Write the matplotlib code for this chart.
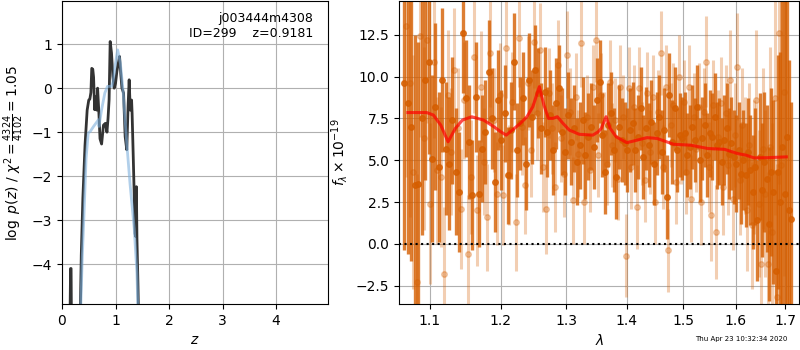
"""
redshift fit summary: log p(z) on the left, G141 spectrum + best-fit model on the right
"""
import numpy as np
import matplotlib
matplotlib.use('Agg')
import matplotlib.pyplot as plt

# ---------------- p(z) panel ----------------
z_pz = [0.140, 0.150, 0.160, 0.170, 0.180, 0.190, 0.330, 0.360, 0.390, 0.410, 0.430, 0.450,
        0.470, 0.500, 0.520, 0.540, 0.556, 0.575, 0.590, 0.610, 0.630, 0.650, 0.665, 0.690,
        0.710, 0.740, 0.775, 0.810, 0.840, 0.860, 0.880, 0.900, 0.925, 0.950, 0.975, 1.000,
        1.025, 1.050, 1.075, 1.100, 1.120, 1.150, 1.180, 1.210, 1.235, 1.255, 1.275, 1.300,
        1.310, 1.330, 1.350, 1.365, 1.375, 1.390, 1.400, 1.420, 1.450]
logpz = [-6.0, -5.2, -4.1, -4.1, -6.0, -6.5, -6.0, -3.8, -2.5, -1.9, -1.3, -0.9,
         -0.5, -0.27, -0.25, -0.1, 0.45, 0.43, 0.25, -0.49, -0.2, -0.5, 0.0, -0.58,
         -1.15, -1.27, -0.84, -0.8, -1.0, -0.69, -0.26, 1.06, 0.8, 0.27, 0.0, 0.11,
         0.38, 0.55, 0.72, 0.3, 0.0, -0.11, -1.1, -1.4, -0.4, 0.19, -0.5, -0.27,
         -0.58, -1.5, -2.46, -3.3, -3.37, -2.24, -3.4, -4.5, -6.5]

z_prior = [0.330, 0.350, 0.380, 0.410, 0.450, 0.490, 0.530, 0.590, 0.680, 0.690, 0.740,
           0.800, 0.850, 0.930, 0.960, 0.990, 1.040, 1.090, 1.140, 1.210, 1.270, 1.350,
           1.400, 1.440]
log_prior = [-6.5, -5.0, -3.8, -2.9, -1.6, -1.02, -0.98, -0.87, -0.72, -0.87, -0.49,
             -0.11, 0.04, 0.04, 0.19, 0.49, 0.87, 0.57, -0.04, -1.25, -2.16, -3.2,
             -4.2, -6.0]

root_name = 'j003444m4308'
obj_id = 299
z_best = 0.9181
chi2_num, chi2_den = 4324, 4102

# ---------------- spectrum panel ----------------
# pixel grids of the two G141 beams (~46 A / pixel)
wave_a = np.round(1.066 + 0.00465 * np.arange(140), 4)
wave_b = np.round(1.0685 + 0.00465 * np.arange(136), 4)

flux_a = [9.6, 8.4, 7.0, 3.5, 3.6, 7.5, 9.8, 10.9, 5.1, 8.2,
          4.6, 9.8, 5.7, 4.8, 7.4, 4.3, 3.1, 12.6, 8.7, 6.1,
          2.9, 8.8, 3.0, 5.7, 6.7, 10.3, 7.5, 3.7, 8.6, 6.2,
          7.8, 4.1, 6.8, 10.9, 5.6, 7.2, 8.7, 4.8, 9.8, 7.6,
          10.4, 9.0, 6.9, 9.1, 6.7, 7.7, 5.6, 8.4, 9.3, 6.7,
          5.5, 7.7, 6.1, 6.9, 4.9, 5.9, 7.4, 5.3, 6.4, 7.0,
          5.8, 8.6, 9.7, 6.5, 4.3, 7.1, 7.8, 5.6, 4.0, 7.0,
          6.2, 6.0, 5.6, 6.8, 7.2, 5.6, 6.4, 8.1, 5.2, 6.9,
          5.9, 7.3, 4.8, 6.6, 7.6, 5.5, 6.8, 2.8, 8.9, 6.1,
          8.1, 5.6, 6.5, 6.3, 6.6, 5.3, 5.8, 7.0, 6.2, 8.2,
          5.0, 6.3, 7.1, 5.3, 6.6, 6.4, 7.6, 5.9, 6.1, 4.9,
          6.2, 6.9, 5.4, 6.0, 5.2, 4.8, 5.6, 4.2, 5.0, 4.1,
          5.5, 4.4, 3.1, 4.6, 1.4, 5.2, 3.2, 4.9, 3.9, 1.2,
          4.3, 3.1, -1.6, 4.3, 2.5, 5.8, 3.0, 6.4, 2.0, 1.5]
err_a = [10.0, 9.0, 8.0, 9.0, 8.5, 7.0, 6.0, 5.5, 5.0, 5.0,
         4.5, 4.3, 4.0, 4.0, 3.8, 3.8, 3.6, 3.6, 3.5, 3.4,
         3.3, 3.3, 3.2, 3.2, 3.1, 3.1, 3.0, 3.0, 3.0, 3.0,
         2.9, 2.9, 2.9, 2.9, 2.8, 2.8, 2.8, 2.8, 2.8, 2.8,
         2.7, 2.7, 2.7, 2.7, 2.7, 2.7, 2.7, 2.7, 2.6, 2.6,
         2.6, 2.6, 2.6, 2.6, 2.6, 2.6, 2.6, 2.6, 2.6, 2.6,
         2.5, 2.5, 2.5, 2.5, 2.5, 2.5, 2.5, 2.5, 2.5, 2.5,
         2.5, 2.5, 2.5, 2.5, 2.5, 2.5, 2.5, 2.5, 2.5, 2.5,
         2.5, 2.5, 2.5, 2.5, 2.5, 2.5, 2.5, 2.5, 2.5, 2.5,
         2.5, 2.5, 2.5, 2.5, 2.5, 2.5, 2.5, 2.5, 2.5, 2.5,
         2.5, 2.5, 2.5, 2.5, 2.6, 2.6, 2.6, 2.6, 2.6, 2.6,
         2.7, 2.7, 2.7, 2.8, 2.8, 2.9, 2.9, 3.0, 3.0, 3.1,
         3.2, 3.3, 3.4, 3.5, 3.6, 3.8, 4.0, 4.2, 4.4, 4.6,
         5.0, 5.5, 6.0, 7.0, 9.0, 12.0, 12.0, 10.0, 9.0, 7.0]

flux_b = [13.0, 9.6, 4.3, -2.3, 12.4, 6.3, 12.2, 2.4, 10.9, 4.4,
          4.0, -1.8, 8.9, 5.5, 10.4, 6.9, 2.1, 8.6, -0.6, 4.0,
          11.2, 2.0, 9.4, 4.9, 1.6, 11.4, 7.4, 3.0, 8.9, 2.9,
          11.7, 4.1, 8.5, 1.3, 12.3, 7.0, 3.5, 9.6, 5.6, 12.1,
          7.8, 11.6, 4.6, 2.1, 9.0, 6.9, 3.4, 10.7, 6.3, 4.2,
          11.3, 7.9, 2.6, 8.8, 5.4, 12.0, 2.5, 7.6, 4.4, 9.4,
          12.2, 5.3, 8.9, 6.6, 4.8, 9.7, 5.9, 7.4, 3.9, 9.4,
          7.6, -0.7, 9.3, 4.6, 8.2, 2.2, 9.3, 6.0, 3.8, 9.0,
          5.5, 8.8, 2.5, 7.9, 11.4, 4.6, 9.4, -0.4, 7.1, 8.3,
          3.7, 10.0, 6.1, 8.5, 4.3, 9.4, 2.7, 7.6, 5.7, 8.2,
          2.5, 7.9, 10.9, 4.6, 1.7, 8.3, 0.7, 6.4, 8.4, 3.4,
          7.8, 4.7, 9.8, 2.7, 6.5, 10.6, 3.8, 7.1, 5.3, 2.0,
          5.9, 1.1, 4.6, 8.6, 2.4, -1.2, 5.7, 3.0, -1.2, 5.8,
          0.7, 8.7, -3.2, 12.6, 4.7, 9.1]
err_b = [9.0, 8.0, 7.0, 6.5, 6.0, 5.5, 5.0, 4.8, 4.6, 4.4,
         4.2, 4.0, 3.9, 3.8, 3.7, 3.6, 3.6, 3.5, 3.5, 3.4,
         3.4, 3.3, 3.3, 3.2, 3.2, 3.2, 3.1, 3.1, 3.1, 3.0,
         3.0, 3.0, 3.0, 2.9, 2.9, 2.9, 2.9, 2.8, 2.8, 2.8,
         2.8, 2.8, 2.7, 2.7, 2.7, 2.7, 2.7, 2.7, 2.6, 2.6,
         2.6, 2.6, 2.6, 2.6, 2.6, 2.6, 2.5, 2.5, 2.5, 2.5,
         2.5, 2.5, 2.5, 2.5, 2.5, 2.5, 2.5, 2.5, 2.5, 2.5,
         2.5, 2.5, 2.5, 2.5, 2.5, 2.5, 2.5, 2.5, 2.5, 2.5,
         2.5, 2.5, 2.5, 2.5, 2.5, 2.5, 2.5, 2.5, 2.5, 2.5,
         2.5, 2.5, 2.5, 2.5, 2.5, 2.5, 2.6, 2.6, 2.6, 2.6,
         2.6, 2.6, 2.7, 2.7, 2.7, 2.7, 2.8, 2.8, 2.8, 2.9,
         2.9, 3.0, 3.0, 3.1, 3.1, 3.2, 3.3, 3.4, 3.5, 3.6,
         3.7, 3.8, 4.0, 4.2, 4.4, 4.6, 4.8, 5.0, 5.5, 6.0,
         6.5, 7.0, 8.0, 9.0, 10.0, 11.0]

model_wave = [1.071, 1.096, 1.105, 1.115, 1.125, 1.135, 1.145, 1.158, 1.175, 1.190,
              1.200, 1.208, 1.220, 1.229, 1.239, 1.248, 1.258, 1.265, 1.272, 1.279,
              1.286, 1.295, 1.305, 1.321, 1.343, 1.352, 1.357, 1.365, 1.372, 1.382,
              1.400, 1.418, 1.435, 1.453, 1.483, 1.514, 1.546, 1.578, 1.603, 1.620,
              1.636, 1.663, 1.702]
model_flux = [7.85, 7.85, 7.7, 7.1, 6.1, 6.9, 7.4, 7.6, 7.4, 7.0,
              6.7, 6.5, 6.9, 7.2, 7.6, 8.2, 9.4, 8.3, 7.5, 7.5,
              7.6, 7.2, 6.8, 6.55, 6.5, 6.7, 6.9, 7.6, 6.9, 6.4,
              6.05, 6.2, 6.35, 6.3, 5.95, 5.9, 5.7, 5.65, 5.4, 5.3,
              5.14, 5.15, 5.2]

G141_COLOR = (0.835, 0.369, 0.0)

fig = plt.figure(figsize=(8, 3.5), dpi=100)
ax1 = fig.add_axes([0.0775, 0.131, 0.3325, 0.866])
ax2 = fig.add_axes([0.499, 0.131, 0.50, 0.866])

# ---- left: log p(z) ----
ax1.plot(z_pz, logpz, color='0.2', lw=2)
ax1.plot(z_prior, log_prior, color='#7eb0dc', lw=2, alpha=0.6)
ax1.set_xlim(0, 4.97)
ax1.set_ylim(-4.91, 1.98)
ax1.set_xticks([0, 1, 2, 3, 4])
ax1.grid()
ax1.set_xlabel('$z$')
ax1.set_ylabel(r'$\log\ p(z)$' + ' / ' +
               r'$\chi^2=\frac{%d}{%d}=%.2f$' % (chi2_num, chi2_den, chi2_num / chi2_den))
ax1.text(0.945, 0.965, f'{root_name}\nID={obj_id}    z={z_best:.4f}',
         ha='right', va='top', transform=ax1.transAxes, fontsize=9)

# ---- right: spectrum ----
ax2.errorbar(wave_b, flux_b, yerr=err_b, color=G141_COLOR, alpha=0.3,
             marker='o', ms=4, linestyle='None', elinewidth=2.2, capsize=0)
ax2.errorbar(wave_a, flux_a, yerr=err_a, color=G141_COLOR, alpha=0.8,
             marker='o', ms=4, linestyle='None', elinewidth=2.4, capsize=0)
ax2.plot(model_wave, model_flux, color='r', alpha=0.7, lw=2.2, zorder=10)
ax2.plot([1.0597, 1.729], [0, 0], 'k:', lw=1.5)

ax2.set_xscale('log')
ax2.set_xlim(1.0597, 1.729)
ax2.set_ylim(-3.61, 14.52)
ticks = [1.1, 1.2, 1.3, 1.4, 1.5, 1.6, 1.7]
ax2.set_xticks(ticks)
ax2.set_xticklabels([f'{t:.1f}' for t in ticks])
ax2.xaxis.set_minor_locator(matplotlib.ticker.NullLocator())
ax2.set_yticks([-2.5, 0.0, 2.5, 5.0, 7.5, 10.0, 12.5])
ax2.grid()
ax2.set_xlabel(r'$\lambda$')
ax2.set_ylabel(r'$f_\lambda\times10^{-19}$')

fig.text(0.984, 0.031, 'Thu Apr 23 10:32:34 2020', ha='right', va='center', fontsize=5)

fig.savefig('out.png', dpi=100)
